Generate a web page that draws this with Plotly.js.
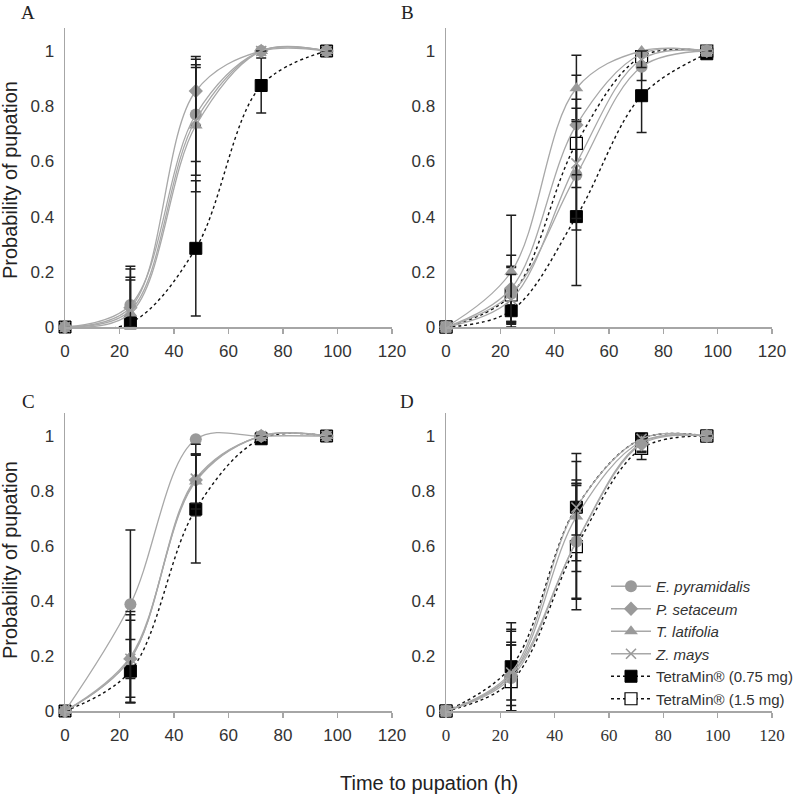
<!DOCTYPE html>
<html>
<head>
<meta charset="utf-8">
<script src="https://cdn.plot.ly/plotly-3.0.1.min.js"></script>
<style>html,body{margin:0;padding:0;background:#fff;}#chart{width:799px;height:797px;}</style>
</head>
<body>
<div id="chart"></div>
<script>
// ---------- data ----------
const hours = [0, 24, 48, 72, 96];
const xTickVals = [0, 20, 40, 60, 80, 100, 120];
const yTickVals = [0, 0.2, 0.4, 0.6, 0.8, 1];
const yTickText = ["0", "0.2", "0.4", "0.6", "0.8", "1"];
const seriesNames = ["<i>E. pyramidalis</i>", "<i>P. setaceum</i>", "<i>T. latifolia</i>", "<i>Z. mays</i>", "TetraMin® (0.75 mg)", "TetraMin® (1.5 mg)"];
const panelLetters = ["A", "B", "C", "D"];

// Panel A
const A_Epyr = [0, 0.08, 0.77, 1.0, 1.0];     const A_Epyr_err = [0, 0.14, 0.17, 0, 0];
const A_Pset = [0, 0.07, 0.855, 1.0, 1.0];    const A_Pset_err = [0, 0.10, 0.125, 0, 0];
const A_Tlat = [0, 0.05, 0.73, 1.0, 1.0];     const A_Tlat_err = [0, 0.16, 0.24, 0, 0];
const A_Zmay = [0, 0.06, 0.75, 1.0, 1.0];     const A_Zmay_err = [0, 0.12, 0.20, 0, 0];
const A_T075 = [0, 0.015, 0.285, 0.875, 1.0]; const A_T075_err = [0, 0.02, 0.245, 0.10, 0];

// Panel B
const B_Epyr = [0, 0.12, 0.551, 0.943, 1.0];  const B_Epyr_err = [0, 0.10, 0.20, 0.05, 0];
const B_Pset = [0, 0.14, 0.732, 0.99, 1.0];   const B_Pset_err = [0, 0.12, 0.18, 0, 0];
const B_Tlat = [0, 0.20, 0.865, 1.0, 1.0];    const B_Tlat_err = [0, 0.205, 0.12, 0, 0];
const B_Zmay = [0, 0.10, 0.593, 0.97, 1.0];   const B_Zmay_err = [0, 0.09, 0.20, 0.03, 0];
const B_T075 = [0, 0.059, 0.40, 0.838, 0.99]; const B_T075_err = [0, 0.045, 0.25, 0.133, 0];
const B_T15  = [0, 0.116, 0.665, 0.98, 1.0];  const B_T15_err  = [0, 0.10, 0.16, 0.02, 0];

// Panel C
const C_Epyr = [0, 0.388, 0.988, 1.0, 1.0];   const C_Epyr_err = [0, 0.27, 0, 0, 0];
const C_Pset = [0, 0.19, 0.84, 1.0, 1.0];     const C_Pset_err = [0, 0.16, 0.13, 0, 0];
const C_Tlat = [0, 0.197, 0.835, 1.0, 1.0];   const C_Tlat_err = [0, 0.165, 0.10, 0, 0];
const C_Zmay = [0, 0.19, 0.845, 1.0, 1.0];    const C_Zmay_err = [0, 0.14, 0.09, 0, 0];
const C_T075 = [0, 0.145, 0.734, 0.99, 1.0];  const C_T075_err = [0, 0.115, 0.196, 0, 0];

// Panel D
const D_Epyr = [0, 0.12, 0.616, 0.975, 1.0];  const D_Epyr_err = [0, 0.13, 0.21, 0.03, 0];
const D_Pset = [0, 0.13, 0.615, 0.97, 1.0];   const D_Pset_err = [0, 0.11, 0.205, 0.03, 0];
const D_Tlat = [0, 0.13, 0.707, 0.98, 1.0];   const D_Tlat_err = [0, 0.16, 0.20, 0, 0];
const D_Zmay = [0, 0.14, 0.74, 0.99, 1.0];    const D_Zmay_err = [0, 0.10, 0.10, 0, 0];
const D_T075 = [0, 0.161, 0.741, 0.99, 1.0];  const D_T075_err = [0, 0.16, 0.195, 0, 0];
const D_T15  = [0, 0.107, 0.598, 0.955, 1.0]; const D_T15_err  = [0, 0.19, 0.23, 0.04, 0];

// ---------- styles ----------
const GRAY_M = "#9a9a9a", GRAY_L = "#a8a8a8", ERR = "#1e1e1e";
const styles = [
  {symbol: "circle", size: 12, color: GRAY_M, line: {color: GRAY_M, width: 0}},
  {symbol: "diamond", size: 11, color: GRAY_M, line: {color: GRAY_M, width: 0}},
  {symbol: "triangle-up", size: 12, color: GRAY_M, line: {color: GRAY_M, width: 0}},
  {symbol: "x-thin-open", size: 10, color: GRAY_M, line: {color: GRAY_M, width: 1.6}},
  {symbol: "square", size: 12, color: "#000", line: {color: "#000", width: 1}},
  {symbol: "square", size: 12, color: "#fff", line: {color: "#000", width: 1.2}}
];
const lineStyles = [
  {color: GRAY_L, width: 1.3, shape: "spline", dash: "solid"},
  {color: GRAY_L, width: 1.3, shape: "spline", dash: "solid"},
  {color: GRAY_L, width: 1.3, shape: "spline", dash: "solid"},
  {color: GRAY_L, width: 1.3, shape: "spline", dash: "solid"},
  {color: "#111", width: 1.4, shape: "spline", dash: "dot"},
  {color: "#111", width: 1.4, shape: "spline", dash: "dot"}
];

const panels = [
  {xa: "x", ya: "y",  series: [A_Epyr, A_Pset, A_Tlat, A_Zmay, A_T075, null], errs: [A_Epyr_err, A_Pset_err, A_Tlat_err, A_Zmay_err, A_T075_err, null]},
  {xa: "x2", ya: "y2", series: [B_Epyr, B_Pset, B_Tlat, B_Zmay, B_T075, B_T15], errs: [B_Epyr_err, B_Pset_err, B_Tlat_err, B_Zmay_err, B_T075_err, B_T15_err]},
  {xa: "x3", ya: "y3", series: [C_Epyr, C_Pset, C_Tlat, C_Zmay, C_T075, null], errs: [C_Epyr_err, C_Pset_err, C_Tlat_err, C_Zmay_err, C_T075_err, null]},
  {xa: "x4", ya: "y4", series: [D_Epyr, D_Pset, D_Tlat, D_Zmay, D_T075, D_T15], errs: [D_Epyr_err, D_Pset_err, D_Tlat_err, D_Zmay_err, D_T075_err, D_T15_err]}
];

const traces = [];
// Draw TetraMin traces first so grey markers sit on top, as in the reference
const drawOrder = [4, 5, 0, 1, 2, 3];
panels.forEach((p, pi) => {
  drawOrder.forEach(si => {
    const ys = p.series[si];
    if (!ys) return;
    const e = p.errs[si];
    traces.push({
      type: "scatter", mode: "lines+markers",
      x: hours, y: ys, xaxis: p.xa, yaxis: p.ya,
      name: seriesNames[si], legendrank: si + 1,
      showlegend: pi === 3,
      cliponaxis: false,
      marker: styles[si], line: lineStyles[si],
      error_y: {type: "data", symmetric: false, array: e, arrayminus: e.map((v, i) => Math.min(v, ys[i])),
                color: ERR, thickness: 1.5, width: 5},
      hoverinfo: "skip"
    });
  });
});

const W = 799, H = 797;
const fx = px => px / W, fy = py => (H - py) / H;
const YMAX = 1.085;
const sansTick = {family: "Liberation Sans, Arial, sans-serif", size: 17, color: "#333"};
const serifTick = {family: "Liberation Serif, Times New Roman, serif", size: 17, color: "#333"};

function xax(d, anchor, font) {
  return {domain: d, anchor: anchor, range: [0, 120], tickvals: xTickVals, ticktext: xTickVals.map(String),
          showline: true, linecolor: "#a6a6a6", linewidth: 1.5, showgrid: false, zeroline: false,
          ticks: "outside", ticklen: 5, tickcolor: "#a6a6a6", tickwidth: 1.2, tickfont: font, ticklabelstandoff: 3, fixedrange: true};
}
function yax(d, anchor) {
  return {domain: d, anchor: anchor, range: [0, YMAX], tickvals: yTickVals, ticktext: yTickText,
          showline: true, linecolor: "#a6a6a6", linewidth: 1.5, showgrid: false, zeroline: false,
          ticks: "", tickfont: sansTick, ticklabelstandoff: 6, fixedrange: true};
}
const yTopA = 327 - YMAX * 276, yTopC = 711 - YMAX * 275;
const letterFont = {family: "Liberation Serif, serif", size: 19, color: "#222"};
const titleFont = {family: "Liberation Sans, Arial, sans-serif", size: 20, color: "#222"};
function ann(text, px, py, font, angle) {
  return {text: text, x: fx(px), y: fy(py), xref: "paper", yref: "paper", showarrow: false,
          xanchor: "center", yanchor: "middle", textangle: angle || 0, font: font};
}
const layout = {
  width: W, height: H, margin: {l: 0, r: 0, t: 0, b: 0},
  paper_bgcolor: "#fff", plot_bgcolor: "#fff", showlegend: true,
  xaxis:  xax([fx(65), fx(392)], "y", sansTick),
  yaxis:  yax([fy(327), fy(yTopA)], "x"),
  xaxis2: xax([fx(446), fx(772)], "y2", sansTick),
  yaxis2: yax([fy(327), fy(yTopA)], "x2"),
  xaxis3: xax([fx(65), fx(392)], "y3", sansTick),
  yaxis3: yax([fy(711), fy(yTopC)], "x3"),
  xaxis4: xax([fx(446), fx(772)], "y4", serifTick),
  yaxis4: yax([fy(711), fy(yTopC)], "x4"),
  legend: {x: fx(606), y: fy(570), xanchor: "left", yanchor: "top", bgcolor: "rgba(0,0,0,0)",
           font: {family: "Liberation Sans, Arial, sans-serif", size: 15, color: "#333"}, tracegroupgap: 0, itemwidth: 40},
  annotations: [
    ann(panelLetters[0], 28, 12, letterFont),
    ann(panelLetters[1], 407, 12, letterFont),
    ann(panelLetters[2], 28, 401, letterFont),
    ann(panelLetters[3], 407, 401, letterFont),
    ann("Probability of pupation", 10, 180, titleFont, -90),
    ann("Probability of pupation", 10, 560, titleFont, -90),
    ann("Time to pupation (h)", 429, 783, titleFont)
  ]
};
Plotly.newPlot("chart", traces, layout, {displayModeBar: false, staticPlot: true});
</script>
</body>
</html>
